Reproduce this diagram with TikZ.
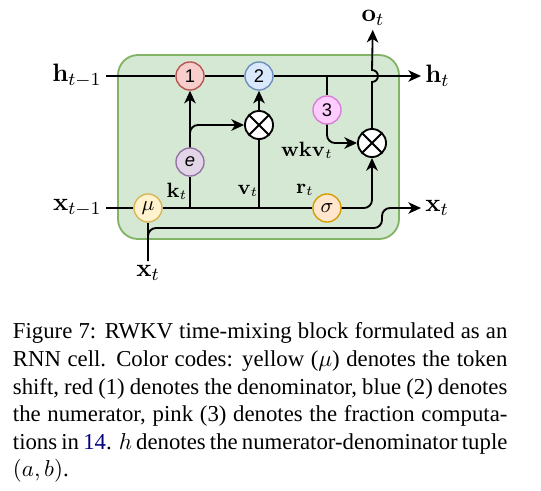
\documentclass[tikz,border=0pt]{standalone}
\usepackage[no-math]{fontspec}
\setmainfont{Liberation Serif}
\newfontfamily\helv{Liberation Sans}
\usepackage{amsmath}
\usepackage{xcolor}
\usetikzlibrary{arrows.meta, calc}

\definecolor{boxfill}{HTML}{D5E8D4}
\definecolor{boxline}{HTML}{82B366}
\definecolor{redfill}{HTML}{F8CECC}
\definecolor{redline}{HTML}{B85450}
\definecolor{bluefill}{HTML}{DAE8FC}
\definecolor{blueline}{HTML}{6C8EBF}
\definecolor{pinkfill}{HTML}{FFCCFF}
\definecolor{pinkline}{HTML}{D67FD6}
\definecolor{purplefill}{HTML}{E1D5E7}
\definecolor{purpleline}{HTML}{9673A6}
\definecolor{yellowfill}{HTML}{FFF2CC}
\definecolor{yellowline}{HTML}{D6B656}
\definecolor{orangefill}{HTML}{FFE6CC}
\definecolor{orangeline}{HTML}{D79B00}
\definecolor{linkblue}{rgb}{0,0,0.5}

\begin{document}
\begin{tikzpicture}[x=0.4348pt, y=-0.4348pt, line width=0.8pt,
    >={Stealth[length=5.5pt, width=5pt, inset=1.6pt]},
    gate/.style={circle, draw, line width=0.6pt, minimum size=12.2pt, inner sep=0pt},
    mult/.style={circle, draw, fill=white, minimum size=12.2pt, inner sep=0pt,
      path picture={\draw (path picture bounding box.north west) -- (path picture bounding box.south east)
        (path picture bounding box.north east) -- (path picture bounding box.south west);}},
    lbl/.style={font=\fontsize{11}{12}\selectfont, inner sep=1.5pt},
    sublbl/.style={font=\fontsize{9}{10}\selectfont, inner sep=1pt}]
  \useasboundingbox (0,0) rectangle (541,491);

  % cell
  \draw[draw=boxline, fill=boxfill, rounded corners=8.7pt] (118,55) rectangle (399,239);

  \node[gate, fill=redfill, draw=redline, font=\helv\fontsize{8}{9}\selectfont] (c1) at (190,76) {1};
  \node[gate, fill=bluefill, draw=blueline, font=\helv\fontsize{8}{9}\selectfont] (c2) at (259,76) {2};
  \node[gate, fill=pinkfill, draw=pinkline, font=\helv\fontsize{8}{9}\selectfont] (c3) at (327,110) {3};
  \node[gate, fill=purplefill, draw=purpleline, font=\helv\itshape\fontsize{8}{9}\selectfont] (e) at (190,162) {e};
  \node[gate, fill=yellowfill, draw=yellowline, font=\fontsize{9}{10}\selectfont] (mu) at (148,208) {$\mu$};
  \node[gate, fill=orangefill, draw=orangeline, font=\fontsize{9}{10}\selectfont] (sig) at (327,208) {$\sigma$};
  \node[mult] (m1) at (259,125) {};
  \node[mult] (m2) at (372,143) {};

  \node[lbl, anchor=east] (hprev) at (106,76) {$\mathbf{h}_{t-1}$};
  \node[lbl, anchor=west] (hnext) at (421,76) {$\mathbf{h}_t$};
  \node[lbl, anchor=east] (xprev) at (106,208) {$\mathbf{x}_{t-1}$};
  \node[lbl, anchor=west] (xnext) at (421,208) {$\mathbf{x}_t$};
  \node[lbl] (xin) at (148,273) {$\mathbf{x}_t$};
  \node[lbl] (ot) at (373,18) {$\mathbf{o}_t$};

  \node[sublbl] (klbl) at (177,191) {$\mathbf{k}_t$};
  \node[sublbl] (vlbl) at (248,191) {$\mathbf{v}_t$};
  \node[sublbl] (rlbl) at (305,190) {$\mathbf{r}_t$};
  \node[sublbl] (wkvlbl) at (307,150) {$\mathbf{wkv}_t$};

  % state line
  \draw (hprev) -- (c1);
  \draw (c1) -- (c2);
  \draw[line width=1.2pt] (219,76) -- (231,76);
  \draw[->] (c2) -- (hnext);
  \draw (c2 -| c3) -- (c3);
  \draw[->, rounded corners=3.5pt] (c3) -- (c3 |- m2) -- (m2);
  \draw[->] (m2) -- ($(m2 |- c2)+(0,6)$) arc[start angle=90, end angle=-90, radius=6] -- (ot);

  % input line
  \draw (xprev) -- (mu);
  \draw (mu) -- (sig);
  \draw[->, rounded corners=3.5pt] (sig) -- (sig -| m2) -- (m2);
  \draw (e |- mu) -- (e);
  \draw (m1 |- mu) -- (m1);
  \draw[->] (e) -- (c1);
  \draw[->, rounded corners=3.5pt] (e.north) -- (e |- m1) -- (m1);
  \draw[->] (m1) -- (c2);
  \draw (xin) -- (mu);
  \draw[->, rounded corners=3.5pt] (xin) -- (148,228) -- (382,228) -- (382,208) -- (xnext);

  \node[anchor=north west, text width=215pt, align=justify, inner sep=0pt,
    font=\fontsize{9.9}{12}\selectfont] (caption) at (12,322) {\spaceskip=0.25em plus 0.3em minus 0.14em
    \hyphenpenalty=10000 \tolerance=9999
    Figure 7: RWKV time-mixing block formulated as an\linebreak
    RNN cell. Color codes: yellow ($\mu$) denotes the token\linebreak
    shift, red (1) denotes the denominator, blue (2) denotes\linebreak
    the numerator, pink (3) denotes the fraction computa-\linebreak
    tions in \textcolor{linkblue}{14}. $h$ denotes the numerator-denominator tuple\linebreak
    $(a,b)$.};
\end{tikzpicture}
\end{document}
